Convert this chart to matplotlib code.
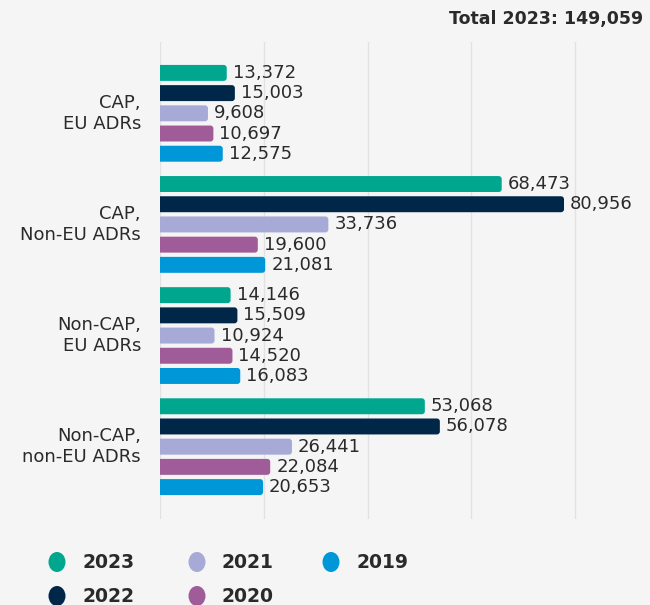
import matplotlib.pyplot as plt
from matplotlib.patches import FancyBboxPatch, Ellipse
import numpy as np

# Data
years = ["2023", "2022", "2021", "2020", "2019"]
categories = ["CAP,\nEU ADRs", "CAP,\nNon-EU ADRs", "Non-CAP,\nEU ADRs", "Non-CAP,\nnon-EU ADRs"]
v2023 = [13372, 68473, 14146, 53068]
v2022 = [15003, 80956, 15509, 56078]
v2021 = [9608, 33736, 10924, 26441]
v2020 = [10697, 19600, 14520, 22084]
v2019 = [12575, 21081, 16083, 20653]
series = [v2023, v2022, v2021, v2020, v2019]
title = "Total 2023: 149,059"

colors = ["#00a78e", "#002748", "#a7aad6", "#a05c98", "#0097d8"]
bg = "#f5f5f5"
text_col = "#2a2a2a"

fig = plt.figure(figsize=(6.5, 6.05), dpi=100, facecolor=bg)
ax = fig.add_axes([160 / 650, 1 - 519 / 605, 420 / 650, 477 / 605], facecolor=bg)

grid_step = 20790
# pixel -> data conversions
px_x = 4 * grid_step / 415.0
px_y = 1 / 20.2
ax.set_xlim(0, 420 * px_x)
ax.set_ylim(22.08, -1.53)

bar_h = 0.79
aspect = px_y / px_x

for g in range(len(categories)):
    for i, vals in enumerate(series):
        y = g * 5.5 + i
        v = vals[g]
        bar = FancyBboxPatch((-1500, y - bar_h / 2), v + 1500, bar_h,
                             boxstyle=f"round,pad=0,rounding_size={3 * px_x}",
                             mutation_aspect=aspect,
                             facecolor=colors[i], edgecolor="none")
        ax.add_patch(bar)
        ax.text(v + 6 * px_x, y, f"{v:,}", va="center", ha="left",
                fontsize=13, color=text_col, clip_on=False)
    ax.text(-19 * px_x, g * 5.5 + 2, categories[g], ha="right", va="center",
            multialignment="right", fontsize=13, color=text_col, clip_on=False)

ax.set_xticks(np.arange(5) * grid_step)
ax.set_yticks([])
ax.tick_params(axis="x", length=0, labelbottom=False)
ax.grid(axis="x", color="#e2e2e2", linewidth=1)
ax.set_axisbelow(True)
for s in ax.spines.values():
    s.set_visible(False)

fig.text(643 / 650, 1 - 19 / 605, title, ha="right", va="center",
         fontsize=12.5, fontweight="bold", color=text_col)

# legend
leg_pos = [(57, 562), (57, 596), (197, 562), (197, 596), (331, 562)]
for yr, col, (cx, cy) in zip(years, colors, leg_pos):
    fig.patches.append(Ellipse((cx / 650, 1 - cy / 605), 17 / 650, 20 / 605,
                               transform=fig.transFigure, facecolor=col,
                               edgecolor="none"))
    fig.text((cx + 25) / 650, 1 - cy / 605, yr, ha="left", va="center",
             fontsize=13.5, fontweight="bold", color=text_col)

fig.savefig("out.png", dpi=100, facecolor=bg)
